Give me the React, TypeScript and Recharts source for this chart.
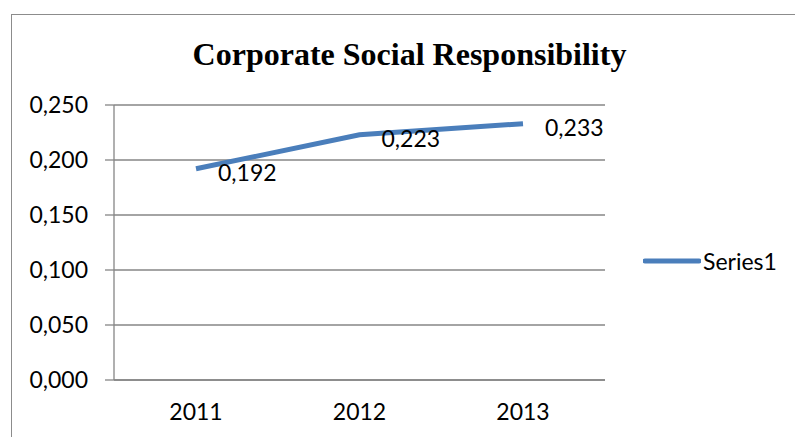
import React from "react";
import { LineChart, Line, XAxis, YAxis, CartesianGrid } from "recharts";

const years = ["2011", "2012", "2013"];
const csrValues = [0.192, 0.223, 0.233];
const yTicks = [0, 0.05, 0.1, 0.15, 0.2, 0.25];

const chartData = years.map((year, i) => ({ year, Series1: csrValues[i] }));

const FONT = "Lato, 'Open Sans', sans-serif";
const fmt = (v: number) => v.toFixed(3).replace(".", ",");

const renderValueLabel = (props: any) => {
  const { x, y, value } = props;
  return (
    <text
      x={x + 22}
      y={y + 3}
      dominantBaseline="central"
      fontFamily={FONT}
      fontSize={23}
      fill="#000"
    >
      {fmt(value)}
    </text>
  );
};

export default function App() {
  return (
    <div style={{ position: "absolute", left: 0, top: 0, width: 795, height: 437, overflow: "hidden", background: "#fff" }}>
      <div
        style={{
          position: "absolute",
          left: 11,
          top: 14,
          width: 900,
          height: 600,
          borderLeft: "1.5px solid #8c8c8c",
          borderTop: "1.5px solid #8c8c8c",
        }}
      />
      <div
        style={{
          position: "absolute",
          left: 0,
          top: 36,
          width: 819,
          textAlign: "center",
          fontFamily: "'Liberation Serif', 'Times New Roman', serif",
          fontWeight: "bold",
          fontSize: 32,
          lineHeight: "36px",
        }}
      >
        Corporate Social Responsibility
      </div>
      <LineChart
        width={795}
        height={437}
        data={chartData}
        margin={{ top: 105, right: 190, bottom: 0, left: 0 }}
        style={{ position: "absolute", left: 0, top: 0 }}
      >
        <CartesianGrid vertical={false} stroke="#868686" strokeWidth={1.3} />
        <XAxis
          dataKey="year"
          height={57}
          padding={{ left: 82, right: 82 }}
          stroke="#868686"
          strokeWidth={1.3}
          tickLine={false}
          tickSize={0}
          tickMargin={24}
          tick={{ fill: "#000", fontFamily: FONT, fontSize: 23 }}
        />
        <YAxis
          width={114}
          domain={[0, 0.25]}
          ticks={yTicks}
          tickFormatter={fmt}
          stroke="#868686"
          strokeWidth={1.3}
          tickSize={9}
          tickMargin={17}
          tick={{ fill: "#000", fontFamily: FONT, fontSize: 23 }}
        />
        <Line
          dataKey="Series1"
          stroke="#4A7EBB"
          strokeWidth={5}
          dot={false}
          activeDot={false}
          label={renderValueLabel}
          isAnimationActive={false}
        />
      </LineChart>
      <div
        style={{
          position: "absolute",
          left: 643,
          top: 246,
          display: "flex",
          alignItems: "center",
          fontFamily: FONT,
          fontSize: 23,
          lineHeight: "30px",
        }}
      >
        <svg width={58} height={10}>
          <line x1={2} y1={5} x2={56} y2={5} stroke="#4A7EBB" strokeWidth={5} strokeLinecap="round" />
        </svg>
        <span style={{ marginLeft: 2 }}>Series1</span>
      </div>
    </div>
  );
}
